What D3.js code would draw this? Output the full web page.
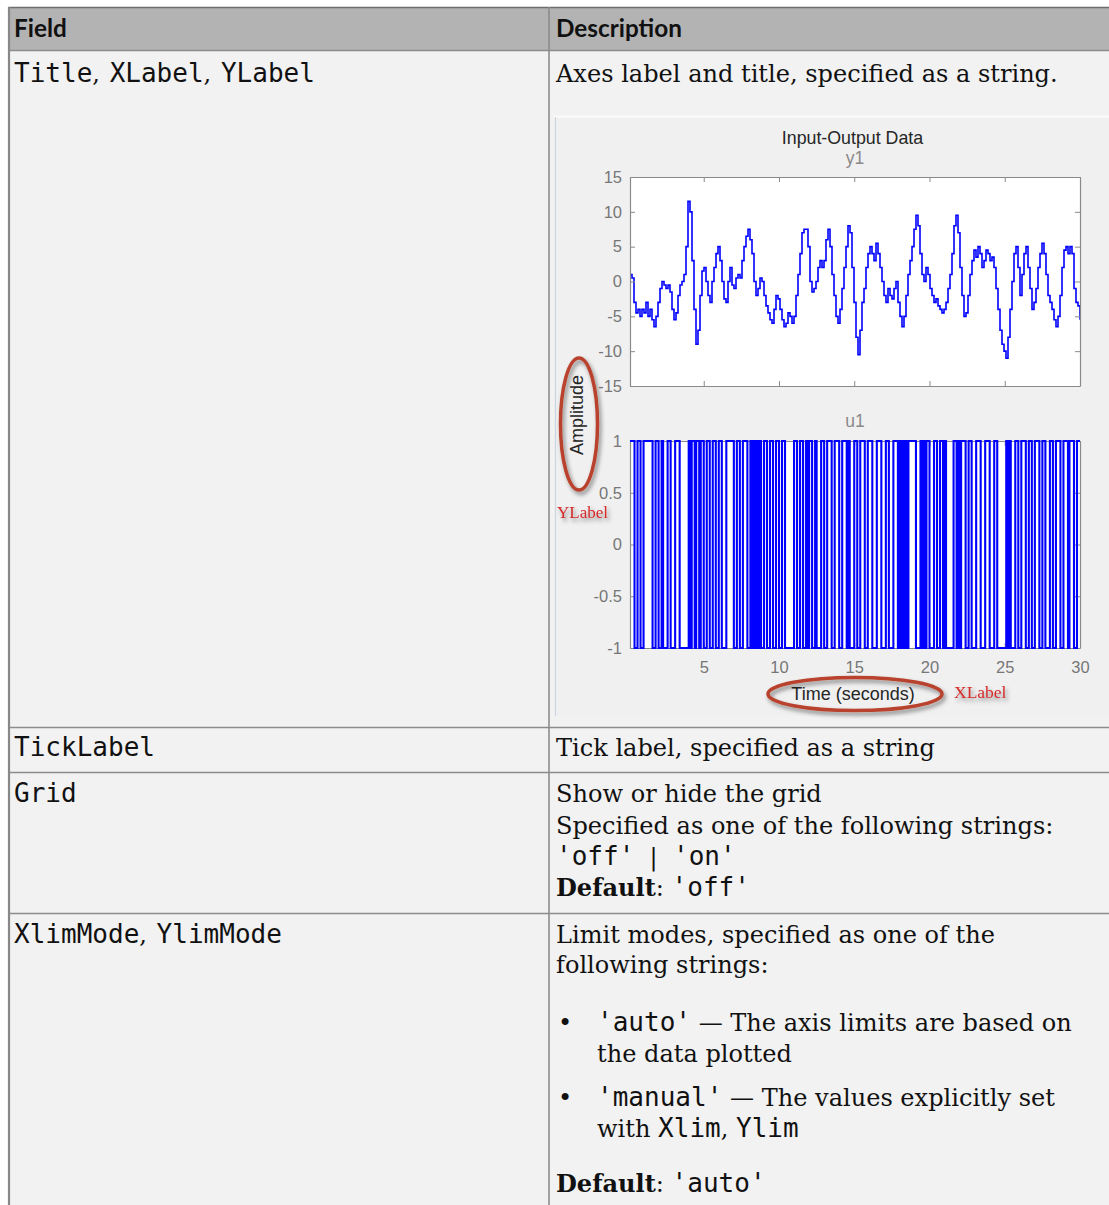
<!DOCTYPE html>
<html><head><meta charset="utf-8">
<script src="https://cdn.jsdelivr.net/npm/d3@7"></script>
<style>body{margin:0;background:#fff;} svg{display:block}</style>
</head><body>
<svg id="c" width="1109" height="1205"></svg>
<script>
// ---------------- DATA ----------------
const y1Values = [1,0.5,-3,-4.5,-4,-5,-4,-4.5,-3,-5,-4,-5.5,-6.5,-5,-3,-1,0,-0.5,-1,-0.5,
-1.5,-4,-5.5,-4.5,-2,-0.5,0,1,5,11.5,10,3,-4,-9,-7,-2,1.5,2,0,-2,
-3,0,2,4,5,3,0,-2.5,-3,0,2,-0.5,-1,0.5,1,0.5,3,5,6.5,7.5,
6,4,0,-2,-1,0.5,0,-2,-3.5,-4.5,-5.5,-6,-4,-2,-2.5,-4,-5.5,-6.5,-6,-4.5,
-5,-6,-5,-2,1,4,7,7.5,7.5,5,0,-1.5,-1,0,2,3,2,3,6,7.5,
5,1,-2,-5,-6,-4,-1,2,5,8,7,2,-3,-8,-10.5,-7,-3,-1,2,4,
5,4,3,5.5,4,2,0,-2,-3,-1,-2,-2.5,-1,0,-3,-5,-6.5,-5,-2,1,
3,5,7.5,9.5,8,4,1,0,2,1,-1,-2,-3,-2.5,-3.5,-4,-4.5,-4,-3,-1,
1,4,8,9.5,7,2,-2,-5,-4.5,-2,1,3,4.5,3.5,5,4,2,3,4.5,4,
3,3.5,2,-1,-4,-7,-9,-10,-11,-8,-4,0,4,5,2,-2,1,4,5,2,
-1,-4,-3,-1,2,4,5.5,4,1,-2,-3,-4,-5.5,-6.5,-5,-2,2,4.5,5,4,
5,4,-1,-3,-3.5,-5.5];
const y1Start = 0.1, y1End = 30;
const u1Start = 1;
const u1Switch = [0.4,0.6,0.8,1.0,1.6,1.8,2.0,2.2,2.3,2.6,2.8,3.1,3.4,4.0,4.1,4.2,4.4,4.5,4.7,4.8,
5.0,5.2,5.4,5.6,5.8,6.0,6.2,6.5,7.0,7.2,7.4,7.6,7.9,8.1,8.2,8.3,8.4,8.5,8.6,8.7,
8.8,9.0,9.2,9.4,9.6,9.8,10.0,10.2,10.4,11.0,11.2,11.4,11.6,11.8,11.9,12.0,12.2,12.4,12.5,12.8,
13.0,13.2,13.5,13.7,14.0,14.2,14.5,14.6,14.7,15.0,15.2,15.4,15.7,15.9,16.2,16.5,16.8,17.1,17.3,17.6,
17.9,18.0,18.1,18.2,18.3,18.4,18.5,18.6,19.1,19.4,19.5,19.6,19.7,19.8,20.0,20.3,20.5,20.7,20.9,21.0,
21.1,21.6,21.8,21.9,22.0,22.1,22.4,22.6,22.8,23.1,23.4,23.7,24.0,24.3,24.5,25.1,25.2,25.3,25.4,25.7,
25.9,26.1,26.4,26.6,26.8,27.0,27.3,27.5,27.7,28.0,28.2,28.4,28.7,28.9,29.2,29.3,29.6,29.8];
const y1Ticks = [-15,-10,-5,0,5,10,15];
const u1Ticks = [-1,-0.5,0,0.5,1];
const xTicks = [5,10,15,20,25,30];
const chartTitle = "Input-Output Data";
const outName = "y1", inName = "u1";
const yLabelText = "Amplitude", xLabelText = "Time (seconds)";
const annotY = "YLabel", annotX = "XLabel";
const headers = ["Field","Description"];
// rich text rows: [mono m | serif s | bold b]
const fieldCells = [
  [["m","Title"],["s",", "],["m","XLabel"],["s",", "],["m","YLabel"]],
  [["m","TickLabel"]],
  [["m","Grid"]],
  [["m","XlimMode"],["s",", "],["m","YlimMode"]]
];
const descLines = [
  [[["s","Axes label and title, specified as a string."]]],
  [[["s","Tick label, specified as a string"]]],
  [[["s","Show or hide the grid"]],[["s","Specified as one of the following strings:"]],[["m","'off'"],["s","  |  "],["m","'on'"]],[["b","Default"],["s",": "],["m","'off'"]]],
  [[["s","Limit modes, specified as one of the"]],[["s","following strings:"]],
   [["s","•"],["m","'auto'"],["s"," — The axis limits are based on"]],[["s","the data plotted"]],
   [["s","•"],["m","'manual'"],["s"," — The values explicitly set"]],[["s","with "],["m","Xlim"],["s",", "],["m","Ylim"]],
   [["b","Default"],["s",": "],["m","'auto'"]]]
];

// ---------------- LAYOUT ----------------
const svg = d3.select("#c");
const W = 1109;
const colX = 549, leftX = 8;
const rowY = [50, 727, 772, 913, 1210];
const fieldBase = [82, 756, 802, 943];
const descBase = [[82],[756],[802,834,865,896],[943,973,1031,1062,1106,1137,1192]];
const descIndent = [[0],[0],[0,0,0,0],[0,0,41,41,41,41,0]];

const MONO = "'DejaVu Sans Mono', monospace";
const SERIF = "'DejaVu Serif', serif";
const SANS = "'Liberation Sans', Arial, sans-serif";

function fitSize(family, weight, str, target){
  const t = svg.append("text").attr("font-family",family).attr("font-weight",weight)
    .attr("font-size",20).text(str);
  const w = t.node().getComputedTextLength(); t.remove();
  return 20*target/w;
}
const serifSize = fitSize(SERIF, "normal", "Axes label and title, specified as a string.", 502);
const monoSize = fitSize(MONO, "normal", "TickLabel", 141);
const headSize = fitSize("Lato, 'Liberation Sans', sans-serif", "bold", "Description", 126);

svg.append("rect").attr("x",leftX).attr("y",7).attr("width",W).attr("height",1210).attr("fill","#f2f2f2");
svg.append("rect").attr("x",leftX).attr("y",7).attr("width",W).attr("height",rowY[0]-7).attr("fill","#b3b3b3");
const lineC = "#8c8c8c";
svg.append("line").attr("x1",leftX).attr("x2",W).attr("y1",7.5).attr("y2",7.5).attr("stroke","#6e6e6e").attr("stroke-width",1.5);
rowY.slice(0,4).forEach(y=>svg.append("line").attr("x1",leftX).attr("x2",W).attr("y1",y+0.5).attr("y2",y+0.5).attr("stroke",lineC).attr("stroke-width",1.5));
svg.append("line").attr("x1",leftX+1).attr("x2",leftX+1).attr("y1",7).attr("y2",1205).attr("stroke","#888").attr("stroke-width",2.2);
svg.append("line").attr("x1",colX).attr("x2",colX).attr("y1",7).attr("y2",1205).attr("stroke",lineC).attr("stroke-width",1.6);

svg.selectAll("text.hd").data(headers).join("text").attr("class","hd")
  .attr("x",(d,i)=>i===0?14:556).attr("y",37)
  .attr("font-family","Lato, 'Liberation Sans', sans-serif").attr("font-weight","bold")
  .attr("font-size",headSize).attr("fill","#111").text(d=>d);

function rich(x, y, parts){
  const t = svg.append("text").attr("x",x).attr("y",y).attr("fill","#111").attr("xml:space","preserve");
  parts.forEach(([k,s])=>{
    const sp = t.append("tspan").text(s).style("white-space","pre");
    if(k==="m"){ sp.attr("font-family",MONO).attr("font-size",monoSize); }
    else { sp.attr("font-family",SERIF).attr("font-size",serifSize); if(k==="b") sp.attr("font-weight","bold"); }
  });
  return t;
}
fieldCells.forEach((p,i)=>rich(14, fieldBase[i], p).attr("word-spacing",2));
descLines.forEach((lines,i)=>lines.forEach((p,j)=>{
  if(p[0][1]==="•"){
    rich(558, descBase[i][j], [p[0]]);
    rich(597, descBase[i][j], p.slice(1));
  } else rich(556+descIndent[i][j], descBase[i][j], p);
}));

// ---------------- CHART ----------------
const defs = svg.append("defs");
const f = defs.append("filter").attr("id","sh").attr("x","-20%").attr("y","-20%").attr("width","150%").attr("height","150%");
f.append("feDropShadow").attr("dx",2).attr("dy",3).attr("stdDeviation",2).attr("flood-color","#000").attr("flood-opacity",0.45);

const cg = svg.append("g");
cg.append("rect").attr("x",554).attr("y",117).attr("width",W-554).attr("height",599).attr("fill","#f0f0f0");
cg.append("line").attr("x1",554).attr("x2",W).attr("y1",116.5).attr("y2",116.5).attr("stroke","#fafafa").attr("stroke-width",2);
cg.append("line").attr("x1",555.5).attr("x2",555.5).attr("y1",117).attr("y2",716).attr("stroke","#cdd6e0").attr("stroke-width",1.2);

const PL = 630, PR = 1080;
const x = d3.scaleLinear().domain([y1Start, y1End]).range([PL, PR]);
const yTop = d3.scaleLinear().domain([-15,15]).range([386,177]);
const yBot = d3.scaleLinear().domain([-1,1]).range([648,441]);
const axC = "#8a8a8a", lblC = "#777";

function panel(y, clipId){
  const [b,t] = y.range();
  cg.append("rect").attr("x",PL).attr("y",t).attr("width",PR-PL).attr("height",b-t).attr("fill","#fff");
  defs.append("clipPath").attr("id",clipId).append("rect").attr("x",PL).attr("y",t-2).attr("width",PR-PL).attr("height",b-t+4);
}
function frame(y, ticks, showX){
  const [b,t] = y.range();
  const style = g=>{ g.selectAll("path").attr("stroke",axC).attr("stroke-width",1.2);
    g.selectAll("line").attr("stroke",axC).attr("stroke-width",1);
    g.selectAll("text").attr("fill",lblC).attr("font-family",SANS).attr("font-size",16.5); };
  cg.append("g").attr("transform",`translate(${PL},0)`).call(d3.axisLeft(y).tickValues(ticks).tickSizeInner(-5).tickSizeOuter(0).tickPadding(8).tickFormat(d=>(d<0?"-":"")+d3.format("~g")(Math.abs(d)))).call(style);
  cg.append("g").attr("transform",`translate(${PR},0)`).call(d3.axisRight(y).tickValues(ticks).tickSizeInner(-5).tickSizeOuter(0).tickFormat("")).call(style);
  cg.append("g").attr("transform",`translate(0,${t})`).call(d3.axisTop(x).tickValues(xTicks).tickSizeInner(-5).tickSizeOuter(0).tickFormat("")).call(style);
  cg.append("g").attr("transform",`translate(0,${b})`).call(d3.axisBottom(x).tickValues(xTicks).tickSizeInner(-5).tickSizeOuter(0).tickPadding(13).tickFormat(showX?d3.format("d"):"")).call(style);
}
panel(yTop, "clipTop");
panel(yBot, "clipBot");

const y1Pts = y1Values.map((v,i)=>[y1Start + i*(y1End-y1Start)/(y1Values.length-1), v]);
cg.append("path").datum(y1Pts).attr("clip-path","url(#clipTop)")
  .attr("d", d3.line().x(d=>x(d[0])).y(d=>yTop(d[1])).curve(d3.curveStepAfter))
  .attr("fill","none").attr("stroke","#0000ff").attr("stroke-width",1.6);

const u1Pts = [[y1Start,u1Start]];
let v = u1Start;
u1Switch.forEach(s=>{ v = -v; u1Pts.push([s,v]); });
u1Pts.push([y1End, v]);

frame(yTop, y1Ticks, false);
frame(yBot, u1Ticks, true);

cg.append("path").datum(u1Pts).attr("clip-path","url(#clipBot)")
  .attr("d", d3.line().x(d=>x(d[0])).y(d=>yBot(d[1])).curve(d3.curveStepAfter))
  .attr("fill","none").attr("stroke","#0000ff").attr("stroke-width",2.1);

cg.append("text").attr("x",852.5).attr("y",144).attr("text-anchor","middle").attr("font-family",SANS).attr("font-size",17.8).attr("fill","#262626").text(chartTitle);
cg.append("text").attr("x",855).attr("y",164).attr("text-anchor","middle").attr("font-family",SANS).attr("font-size",17.5).attr("fill","#8a8a8a").text(outName);
cg.append("text").attr("x",855).attr("y",427).attr("text-anchor","middle").attr("font-family",SANS).attr("font-size",17.5).attr("fill","#8a8a8a").text(inName);
cg.append("text").attr("transform","translate(583,415) rotate(-90)").attr("text-anchor","middle").attr("font-family",SANS).attr("font-size",18).attr("fill","#262626").text(yLabelText);
cg.append("text").attr("x",853).attr("y",700).attr("text-anchor","middle").attr("font-family",SANS).attr("font-size",18).attr("fill","#262626").text(xLabelText);

const red = "#b9432d";
cg.append("ellipse").attr("cx",579).attr("cy",424).attr("rx",18.5).attr("ry",66).attr("fill","none").attr("stroke",red).attr("stroke-width",3.5).attr("filter","url(#sh)");
cg.append("ellipse").attr("cx",855).attr("cy",694).attr("rx",87).attr("ry",16.5).attr("fill","none").attr("stroke",red).attr("stroke-width",3.5).attr("filter","url(#sh)");
cg.append("text").attr("x",557).attr("y",518).attr("font-family","'Liberation Serif', serif").attr("font-size",17).attr("fill","#d42a2a").attr("filter","url(#sh)").text(annotY);
cg.append("text").attr("x",954).attr("y",698).attr("font-family","'Liberation Serif', serif").attr("font-size",17.5).attr("fill","#d42a2a").attr("filter","url(#sh)").text(annotX);
</script>
</body></html>
